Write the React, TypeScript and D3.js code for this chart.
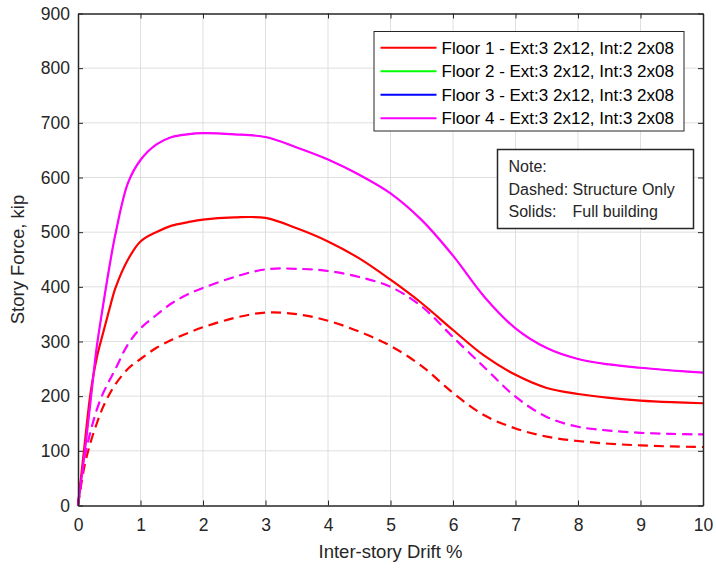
import React, { useEffect, useRef } from 'react';
import * as d3 from 'd3';

// drift values shared by every curve (%)
const drift = [0, 0.1, 0.2, 0.3, 0.4, 0.5, 0.6, 0.8, 1.0, 1.25, 1.5, 1.75, 2, 2.5, 3, 3.5, 4, 4.5, 5, 5.5, 6, 6.5, 7, 7.5, 8, 8.5, 9, 9.5, 10];

// full building (solid)
const floor1Full = [0, 105, 205, 270, 315, 358, 398, 450, 483, 500, 512, 518, 523, 527, 526, 507, 483, 452, 413, 370, 321, 274, 239, 215, 204, 197, 192, 189, 187];
const floor234Full = [0, 90, 190, 290, 365, 435, 497, 590, 632, 660, 674, 679, 681, 679, 674, 655, 633, 605, 571, 522, 457, 382, 324, 288, 268, 258, 252, 247, 243];

// structure only (dashed)
const floor1Struct = [0, 70, 115, 150, 180, 203, 222, 250, 268, 288, 303, 315, 326, 343, 353, 350, 338, 318, 292, 255, 206, 165, 141, 126, 118, 113, 110, 108, 107];
const floor234Struct = [0, 85, 135, 175, 205, 228, 250, 295, 324, 348, 370, 386, 398, 418, 432, 433, 429, 418, 400, 364, 308, 253, 199, 162, 144, 137, 133, 131, 130];

const legendLabels = [
    'Floor 1 - Ext:3 2x12, Int:2 2x08',
    'Floor 2 - Ext:3 2x12, Int:3 2x08',
    'Floor 3 - Ext:3 2x12, Int:3 2x08',
    'Floor 4 - Ext:3 2x12, Int:3 2x08',
];
const colors = ['#ff0000', '#00ff00', '#0000ff', '#ff00ff'];

const xTicks = [0, 1, 2, 3, 4, 5, 6, 7, 8, 9, 10];
const yTicks = [0, 100, 200, 300, 400, 500, 600, 700, 800, 900];

const App = () => {
    const svgRef = useRef<SVGSVGElement>(null);

    useEffect(() => {
        const width = 716;
        const height = 573;
        const margin = { top: 13.5, right: 13, bottom: 67.5, left: 78 };
        const w = width - margin.left - margin.right;
        const h = height - margin.top - margin.bottom;
        const font = 'Helvetica, Arial, "Liberation Sans", sans-serif';
        const ink = '#262626';

        const svg = d3.select(svgRef.current);
        svg.selectAll('*').remove();
        svg.attr('width', width).attr('height', height);

        svg.append('rect').attr('width', width).attr('height', height).attr('fill', '#fff');

        const g = svg.append('g').attr('transform', `translate(${margin.left},${margin.top})`);

        const x = d3.scaleLinear().domain([0, 10]).range([0, w]);
        const y = d3.scaleLinear().domain([0, 900]).range([h, 0]);

        // grid
        g.append('g').selectAll('line').data(xTicks.slice(1, -1)).enter().append('line')
            .attr('x1', d => x(d)).attr('x2', d => x(d)).attr('y1', 0).attr('y2', h)
            .attr('stroke', '#dfdfdf').attr('stroke-width', 1);
        g.append('g').selectAll('line').data(yTicks.slice(1, -1)).enter().append('line')
            .attr('y1', d => y(d)).attr('y2', d => y(d)).attr('x1', 0).attr('x2', w)
            .attr('stroke', '#dfdfdf').attr('stroke-width', 1);

        // curves
        const line = d3.line<number>()
            .x((d, i) => x(drift[i]))
            .y(d => y(d))
            .curve(d3.curveCatmullRom.alpha(0.5));

        // floors 2 and 3 sit exactly under floor 4, drawn thin so only magenta shows
        const series = [
            { values: floor1Struct, color: colors[0], dashed: true, sw: 2.2 },
            { values: floor234Struct, color: colors[1], dashed: true, sw: 0.8 },
            { values: floor234Struct, color: colors[2], dashed: true, sw: 0.8 },
            { values: floor234Struct, color: colors[3], dashed: true, sw: 2.2 },
            { values: floor1Full, color: colors[0], dashed: false, sw: 2.2 },
            { values: floor234Full, color: colors[1], dashed: false, sw: 0.8 },
            { values: floor234Full, color: colors[2], dashed: false, sw: 0.8 },
            { values: floor234Full, color: colors[3], dashed: false, sw: 2.2 },
        ];

        series.forEach(s => {
            g.append('path')
                .datum(s.values)
                .attr('d', line)
                .attr('fill', 'none')
                .attr('stroke', s.color)
                .attr('stroke-width', s.sw)
                .attr('stroke-dasharray', s.dashed ? '10,6' : null);
        });

        // axes (ticks inward, box on)
        const tickLen = 5;
        const xAxis = g.append('g').attr('transform', `translate(0,${h})`)
            .call(d3.axisBottom(x).tickValues(xTicks).tickSizeInner(-tickLen).tickSizeOuter(0).tickPadding(13));
        const yAxis = g.append('g')
            .call(d3.axisLeft(y).tickValues(yTicks).tickSizeInner(-tickLen).tickSizeOuter(0).tickPadding(8));
        g.append('g')
            .call(d3.axisTop(x).tickValues(xTicks).tickSizeInner(-tickLen).tickSizeOuter(0).tickFormat(() => ''));
        g.append('g').attr('transform', `translate(${w},0)`)
            .call(d3.axisRight(y).tickValues(yTicks).tickSizeInner(-tickLen).tickSizeOuter(0).tickFormat(() => ''));

        g.selectAll('.domain').attr('stroke', ink).attr('stroke-width', 1.5);
        g.selectAll('.tick line').attr('stroke', ink);
        [xAxis, yAxis].forEach(a => a.selectAll('text')
            .attr('font-family', font).attr('font-size', '17.5px').attr('fill', ink));

        // axis labels
        svg.append('text')
            .attr('x', margin.left + w / 2)
            .attr('y', 558)
            .attr('text-anchor', 'middle')
            .attr('font-family', font).attr('font-size', '18.5px').attr('fill', ink)
            .text('Inter-story Drift %');
        svg.append('text')
            .attr('transform', `translate(24,${margin.top + h / 2}) rotate(-90)`)
            .attr('text-anchor', 'middle')
            .attr('font-family', font).attr('font-size', '18.5px').attr('fill', ink)
            .text('Story Force, kip');

        // legend
        const legend = svg.append('g');
        legend.append('rect')
            .attr('x', 374).attr('y', 31.5).attr('width', 310).attr('height', 99.5)
            .attr('fill', '#fff').attr('stroke', ink).attr('stroke-width', 1);
        legendLabels.forEach((label, i) => {
            const cy = 47.7 + i * 23.5;
            legend.append('line')
                .attr('x1', 380.5).attr('x2', 436.5).attr('y1', cy).attr('y2', cy)
                .attr('stroke', colors[i]).attr('stroke-width', 2);
            legend.append('text')
                .attr('x', 441.5).attr('y', cy)
                .attr('dy', '0.35em')
                .attr('font-family', font).attr('font-size', '17px').attr('fill', '#000')
                .text(label);
        });

        // note box
        const note = svg.append('g');
        note.append('rect')
            .attr('x', 497.5).attr('y', 149.5).attr('width', 196).attr('height', 79)
            .attr('fill', '#fff').attr('stroke', ink).attr('stroke-width', 1.5);
        const noteLines = ['Note:', 'Dashed: Structure Only', 'Solids:'];
        const noteY = [166.7, 189, 211];
        noteLines.forEach((t, i) => {
            note.append('text')
                .attr('x', 508.5).attr('y', noteY[i]).attr('dy', '0.35em')
                .attr('font-family', font).attr('font-size', '16px').attr('fill', ink)
                .text(t);
        });
        note.append('text')
            .attr('x', 572.5).attr('y', noteY[2]).attr('dy', '0.35em')
            .attr('font-family', font).attr('font-size', '16px').attr('fill', ink)
            .text('Full building');
    }, []);

    return (
        <div style={{ position: 'absolute', left: 0, top: 0, width: 716, height: 573, background: '#fff' }}>
            <svg ref={svgRef} style={{ display: 'block' }}></svg>
        </div>
    );
};

export default App;
